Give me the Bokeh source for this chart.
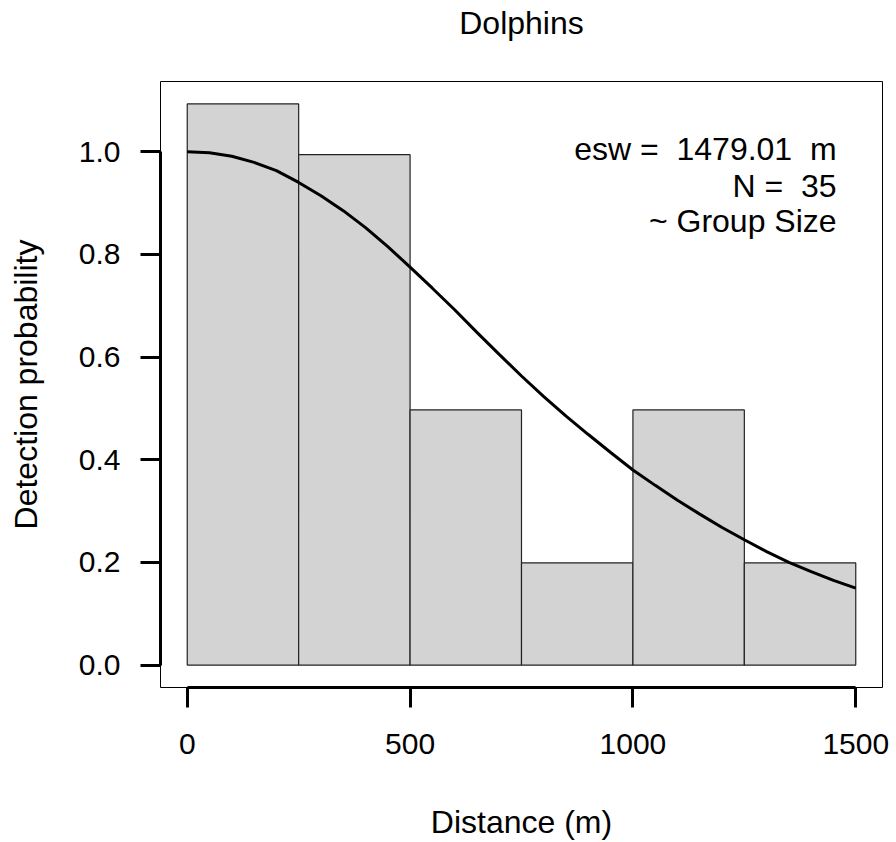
from bokeh.plotting import figure
from bokeh.models import (Range1d, FixedTicker, PrintfTickFormatter, Label, ColumnDataSource,
                          LinearAxis)
from bokeh.embed import file_html
from bokeh.resources import INLINE

# Histogram bins (distance, m) and scaled bar heights
bin_left = [0, 250, 500, 750, 1000, 1250]
bin_right = [250, 500, 750, 1000, 1250, 1500]
bar_height = [1.093, 0.994, 0.497, 0.199, 0.497, 0.199]

# Fitted detection function
curve_dist = [0, 50, 100, 150, 200, 250, 300, 350, 400, 450, 500, 550, 600, 650, 700, 750,
              800, 850, 900, 950, 1000, 1050, 1100, 1150, 1200, 1250, 1300, 1350, 1400, 1450, 1500]
curve_prob = [1.000, 0.998, 0.991, 0.979, 0.963, 0.940, 0.914, 0.885, 0.852, 0.815, 0.775,
              0.734, 0.692, 0.648, 0.605, 0.563, 0.523, 0.485, 0.449, 0.414, 0.380, 0.350,
              0.321, 0.294, 0.268, 0.244, 0.221, 0.200, 0.182, 0.165, 0.150]

x_ticks = [0, 500, 1000, 1500]
y_ticks = [0.0, 0.2, 0.4, 0.6, 0.8, 1.0]

title_text = "Dolphins"
x_label = "Distance (m)"
y_label = "Detection probability"
info_lines = ["esw = \u00a01479.01 \u00a0m", "N = \u00a035", "~ Group Size"]
info_y = [1.005, 0.933, 0.865]
info_x = 1457

FONT = "Liberation Sans"

p = figure(width=894, height=842, output_backend="svg", toolbar_location=None,
           x_range=Range1d(-60, 1560), y_range=Range1d(-0.0437, 1.1366),
           min_border_left=160, min_border_right=12, min_border_top=81, min_border_bottom=155)

p.grid.visible = False
p.outline_line_color = "black"
p.outline_line_width = 1
p.background_fill_color = "white"
p.border_fill_color = "white"

src = ColumnDataSource(dict(left=bin_left, right=bin_right, top=bar_height))
p.quad(left="left", right="right", bottom=0, top="top", source=src,
       fill_color="#d3d3d3", line_color="#222222", line_width=1.2)

p.line(curve_dist, curve_prob, line_color="black", line_width=3)

for ax in (p.xaxis[0], p.yaxis[0]):
    ax.axis_line_width = 3
    ax.axis_line_color = "black"
    ax.major_tick_line_width = 3
    ax.major_tick_line_color = "black"
    ax.major_tick_out = 20
    ax.major_tick_in = 0
    ax.minor_tick_line_color = None
    ax.major_label_text_font = FONT
    ax.major_label_text_font_size = "30px"
    ax.major_label_text_color = "black"
    ax.axis_label_text_font = FONT
    ax.axis_label_text_font_size = "32px"
    ax.axis_label_text_font_style = "normal"
    ax.axis_label_text_color = "black"

p.xaxis[0].bounds = (0, 1500)
p.xaxis[0].ticker = FixedTicker(ticks=x_ticks)
p.xaxis[0].major_label_standoff = 26
p.xaxis[0].axis_label = x_label
p.xaxis[0].axis_label_standoff = 47

p.yaxis[0].bounds = (0, 1)
p.yaxis[0].ticker = FixedTicker(ticks=y_ticks)
p.yaxis[0].formatter = PrintfTickFormatter(format="%.1f")
p.yaxis[0].major_label_orientation = "horizontal"
p.yaxis[0].major_label_standoff = 20
p.yaxis[0].axis_label = y_label
p.yaxis[0].axis_label_standoff = 32

# main title, drawn as the label of a bare axis above the box
top_ax = LinearAxis(axis_label=title_text, ticker=FixedTicker(ticks=[]),
                    axis_line_color=None, major_tick_line_color=None, minor_tick_line_color=None,
                    major_tick_out=0, major_tick_in=0, minor_tick_out=0, minor_tick_in=0,
                    major_label_standoff=0, major_label_text_font_size="0px",
                    axis_label_standoff=41, axis_label_text_font=FONT,
                    axis_label_text_font_size="32px", axis_label_text_font_style="normal",
                    axis_label_text_color="black")
p.add_layout(top_ax, "above")

for txt, yy in zip(info_lines, info_y):
    p.add_layout(Label(x=info_x, y=yy, text=txt, text_align="right", text_baseline="middle",
                       text_font=FONT, text_font_size="32px", text_color="black"))

open("out.html", "w").write(file_html(p, INLINE))
